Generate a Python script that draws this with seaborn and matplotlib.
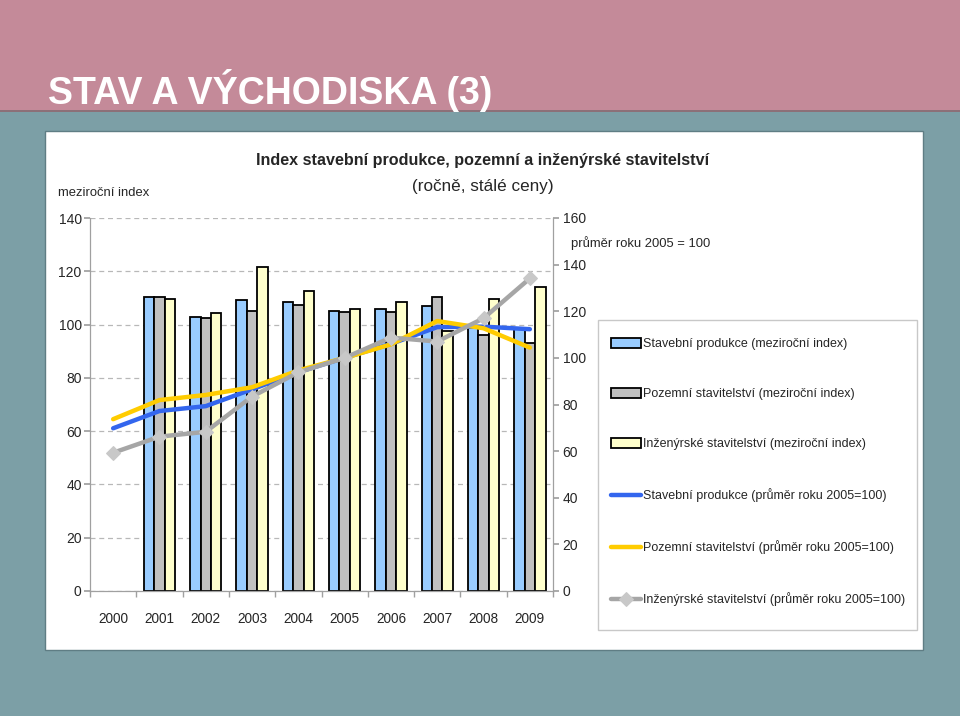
import numpy as np
import pandas as pd
import matplotlib
matplotlib.use("Agg")
import matplotlib.pyplot as plt
from matplotlib.patches import Rectangle
from matplotlib.ticker import FixedLocator
import seaborn as sns

# ------------------------------------------------------------
# Data
# ------------------------------------------------------------
years = ["2000", "2001", "2002", "2003", "2004", "2005", "2006", "2007", "2008", "2009"]

# year-over-year index (bars, left axis) - no value for 2000
bar_years = years[1:]
stav_yoy = [110.2, 102.9, 109.1, 108.6, 105.2, 105.7, 106.8, 99.6, 98.2]
poz_yoy = [110.2, 102.3, 105.2, 107.3, 104.6, 104.6, 110.2, 96.2, 92.9]
inz_yoy = [109.7, 104.2, 121.6, 112.5, 105.7, 108.4, 97.7, 109.6, 114.2]

# 2005 = 100 (lines, right axis)
stav_2005 = [69.8, 77.2, 79.3, 86.5, 93.9, 100.0, 106.0, 113.2, 113.4, 112.3]
poz_2005 = [73.7, 81.9, 84.1, 87.4, 94.6, 100.0, 105.8, 115.8, 112.7, 104.4]
inz_2005 = [59.3, 66.2, 68.3, 83.4, 93.8, 100.0, 108.7, 107.0, 117.0, 134.1]

bar_labels = ["Stavební produkce (meziroční index)",
              "Pozemní stavitelství (meziroční index)",
              "Inženýrské stavitelství (meziroční index)"]
line_labels = ["Stavební produkce (průměr roku 2005=100)",
               "Pozemní stavitelství (průměr roku 2005=100)",
               "Inženýrské stavitelství (průměr roku 2005=100)"]

bars = pd.DataFrame({
    "rok": bar_years * 3,
    "index": stav_yoy + poz_yoy + inz_yoy,
    "serie": [bar_labels[0]] * 9 + [bar_labels[1]] * 9 + [bar_labels[2]] * 9,
})
pos = np.arange(len(years))

# ------------------------------------------------------------
# Style
# ------------------------------------------------------------
sns.set_theme(style="white")
plt.rcParams["font.family"] = ["Liberation Sans", "DejaVu Sans"]

W, H = 960, 716
fig = plt.figure(figsize=(W / 100, H / 100), dpi=100)
fig.patch.set_facecolor("#7C9FA6")

# slide header + white panel
fig.add_artist(Rectangle((0, 1 - 110 / H), 1, 110 / H, transform=fig.transFigure,
                         facecolor="#C48A99", edgecolor="none", zorder=0))
fig.add_artist(Rectangle((0, 1 - 112 / H), 1, 2 / H, transform=fig.transFigure,
                         facecolor="#8C7078", edgecolor="none", zorder=0))
fig.add_artist(Rectangle((45 / W, 1 - 650 / H), (923 - 45) / W, (650 - 131) / H,
                         transform=fig.transFigure, facecolor="white",
                         edgecolor="#5F7D84", linewidth=1, zorder=0))
fig.text(48 / W, 1 - 90 / H, "STAV A VÝCHODISKA (3)", color="white",
         fontsize=27, fontweight="bold", va="center", ha="left")

ax = fig.add_axes([90 / W, 1 - 591 / H, (553 - 90) / W, (591 - 218) / H])
ax.set_facecolor("none")

sns.barplot(data=bars, x="rok", y="index", hue="serie", order=years,
            hue_order=bar_labels, palette=["#99CCFF", "#C0C0C0", "#FFFFCC"],
            width=0.68, edgecolor="black", linewidth=1.3, saturation=1,
            ax=ax, zorder=2)
ax.set_ylim(0, 140)
ax.set_xlim(-0.5, 9.5)
ax.set_yticks(range(0, 141, 20))
ax.yaxis.grid(True, color="#B8B8B8", linestyle=(0, (4, 3)), linewidth=0.9)
ax.set_axisbelow(True)
ax.set_xlabel("")
ax.set_ylabel("")

ax2 = ax.twinx()
sns.lineplot(x=pos, y=stav_2005, color="#3366EE", linewidth=3.2, label=line_labels[0], ax=ax2)
sns.lineplot(x=pos, y=poz_2005, color="#FFCC00", linewidth=3.2, label=line_labels[1], ax=ax2)
sns.lineplot(x=pos, y=inz_2005, color="#A6A6A6", linewidth=3.2, marker="D",
             markersize=7, markerfacecolor="#C8C8C8", markeredgecolor="#C8C8C8",
             label=line_labels[2], ax=ax2)
ax2.set_ylim(0, 160)
ax2.set_yticks(range(0, 161, 20))
ax2.set_xlim(-0.5, 9.5)

for a in (ax, ax2):
    for s in a.spines.values():
        s.set_visible(False)
ax.spines["left"].set_visible(True)
ax.spines["bottom"].set_visible(True)
ax2.spines["right"].set_visible(True)
for s in (ax.spines["left"], ax.spines["bottom"], ax2.spines["right"]):
    s.set_color("#A0A0A0")
    s.set_linewidth(0.9)

ax.tick_params(axis="y", left=True, length=4, color="#A0A0A0", labelsize=10, pad=2)
ax2.tick_params(axis="y", right=True, length=4, color="#A0A0A0", labelsize=10, pad=3)
ax.tick_params(axis="x", bottom=False, labelsize=9.8, pad=9)
ax.xaxis.set_minor_locator(FixedLocator(np.arange(-0.5, 10, 1)))
ax.tick_params(axis="x", which="minor", bottom=True, length=4, color="#A0A0A0")

# legend: bars + lines together, frame drawn separately
h1, l1 = ax.get_legend_handles_labels()
h2, l2 = ax2.get_legend_handles_labels()
if ax.get_legend():
    ax.get_legend().remove()
if ax2.get_legend():
    ax2.get_legend().remove()
fig.add_artist(Rectangle((598 / W, 1 - 630 / H), (917 - 598) / W, (630 - 320) / H,
                         transform=fig.transFigure, facecolor="white",
                         edgecolor="#C8C8C8", linewidth=1, zorder=1))
leg = fig.legend(h1 + h2, l1 + l2, loc="upper left",
                 bbox_to_anchor=(611 / W, 1 - 338 / H), fontsize=9.0,
                 frameon=False, handlelength=2.4, handleheight=0.8,
                 handletextpad=0.15, labelspacing=3.04, borderpad=0,
                 borderaxespad=0)
leg.set_zorder(3)

# titles and axis notes
fig.text(483 / W, 1 - 160 / H, "Index stavební produkce, pozemní a inženýrské stavitelství",
         ha="center", va="center", fontsize=11.6, fontweight="bold")
fig.text(483 / W, 1 - 186 / H, "(ročně, stálé ceny)", ha="center", va="center", fontsize=12.3)
fig.text(58 / W, 1 - 193 / H, "meziroční index", ha="left", va="center", fontsize=9.4)
fig.text(571 / W, 1 - 243 / H, "průměr roku 2005 = 100", ha="left", va="center", fontsize=9.4)

fig.savefig("out.png", dpi=100, facecolor=fig.get_facecolor())
